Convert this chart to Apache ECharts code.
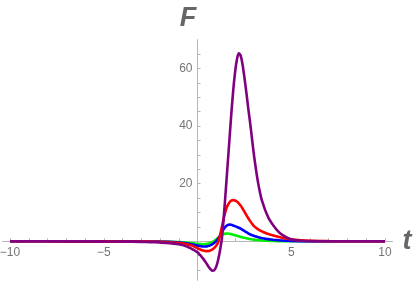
<!DOCTYPE html>
<html><head><meta charset="utf-8">
<script src="https://cdn.jsdelivr.net/npm/echarts@6/dist/echarts.min.js"></script>
<style>html,body{margin:0;padding:0;background:#fff}#c{width:415px;height:285px}</style>
</head><body><div id="c"></div>
<script>
const tVals = [-10,-8,-6,-5,-4,-3,-2.5,-2,-1.5,
  -1.0,-0.9,-0.8,-0.7,-0.6,-0.5,-0.4,-0.3,-0.2,-0.1,
  0,0.1,0.2,0.3,0.4,0.5,0.6,0.7,0.8,0.9,
  1.0,1.1,1.2,1.3,1.4,1.5,1.6,1.7,1.8,1.9,
  2.0,2.1,2.2,2.3,2.4,2.5,2.6,2.7,2.8,2.9,
  3.0,3.1,3.2,3.3,3.4,3.5,3.6,3.7,3.8,3.9,
  4.0,4.25,4.5,5,5.5,6,7,8,10];
const greenVals = [0,0,0,0,-0.01,-0.03,-0.05,-0.08,-0.13,
  -0.25,-0.29,-0.33,-0.38,-0.44,-0.5,-0.57,-0.64,-0.72,-0.8,
  -0.87,-0.93,-0.98,-1.0,-0.97,-0.88,-0.72,-0.5,-0.2,0.2,
  0.7,1.25,1.75,2.2,2.5,2.68,2.72,2.65,2.5,2.32,
  2.12,1.92,1.72,1.54,1.37,1.21,1.06,0.93,0.8,0.69,
  0.59,0.5,0.43,0.37,0.31,0.27,0.23,0.19,0.16,0.14,
  0.12,0.08,0.05,0.02,0.01,0,0,0,0];
const blueVals = [0,0,0,-0.01,-0.02,-0.05,-0.08,-0.12,-0.2,
  -0.4,-0.46,-0.52,-0.6,-0.7,-0.8,-0.93,-1.06,-1.2,-1.35,
  -1.5,-1.63,-1.73,-1.8,-1.82,-1.75,-1.58,-1.3,-0.95,-0.5,
  0.05,0.9,2.0,3.2,4.3,5.1,5.6,5.8,5.72,5.52,
  5.27,5.0,4.7,4.4,4.0,3.6,3.2,2.8,2.45,2.15,
  1.9,1.7,1.5,1.33,1.18,1.05,0.93,0.82,0.72,0.63,
  0.55,0.42,0.3,0.15,0.07,0.03,0.01,0,0];
const redVals = [0,0,-0.01,-0.02,-0.04,-0.08,-0.12,-0.18,-0.3,
  -0.55,-0.63,-0.72,-0.83,-0.95,-1.1,-1.3,-1.5,-1.75,-2.05,
  -2.4,-2.7,-3.0,-3.2,-3.35,-3.4,-3.35,-3.15,-2.8,-2.3,
  -1.5,-0.3,2.0,5.0,8.0,10.6,12.4,13.5,14.1,14.3,
  14.2,13.8,13.2,12.4,11.4,10.3,9.2,8.1,7.1,6.2,
  5.4,4.8,4.3,3.9,3.55,3.25,2.95,2.7,2.5,2.3,
  2.1,1.65,1.25,0.7,0.38,0.2,0.05,0.01,0];
const purpleVals = [0,0,-0.02,-0.04,-0.08,-0.18,-0.28,-0.42,-0.62,
  -1.0,-1.15,-1.3,-1.5,-1.75,-2.0,-2.3,-2.65,-3.0,-3.4,
  -3.8,-4.5,-5.2,-6.0,-6.9,-7.9,-8.9,-9.7,-10.2,-10.0,
  -8.8,-6.5,-3.2,1.0,8.4,17,26,35,44,52,
  58.5,63,65.3,64.5,61.5,57,52,46.5,41.5,36,
  30.5,25.8,21.5,18,15,12.9,11.0,9.4,8.0,6.9,
  5.9,3.8,2.3,0.6,0.2,0.06,0.01,0,0];
const xTickLabels = [-10,-5,5,10];
const yTickLabels = [20,40,60];
const xTicks = [-10,-9,-8,-7,-6,-5,-4,-3,-2,-1,1,2,3,4,5,6,7,8,9,10];
const yTicks = [-10,-5,5,10,15,20,25,30,35,40,45,50,55,60,65];
const xMin = -10.4, xMax = 10.4, yMin = -13.5, yMax = 70;

const axisColor = '#b5b5b5';
const labelColor = '#757575';
const gridLeft = 2.5, gridWidth = 390, gridTop = 39.7, gridHeight = 240.5;
// axis offsets so the axes cross at the origin
const xAxisOffset = -gridHeight * (0 - yMin) / (yMax - yMin);
const yAxisOffset = -gridWidth * (0 - xMin) / (xMax - xMin);
function pairs(vals){ return tVals.map((t,i)=>[t, vals[i]]); }
function mk(name, vals, color){
  return {name:name, type:'line', data:pairs(vals), showSymbol:false, smooth:0.3,
    lineStyle:{color:color, width:2.6}, itemStyle:{color:color}, animation:false};
}
const chart = echarts.init(document.getElementById('c'), null, {renderer:'canvas'});
chart.setOption({
  animation:false,
  grid:{left:gridLeft, width:gridWidth, top:gridTop, height:gridHeight, containLabel:false,
    outerBounds:{left:-60, right:-60, top:-60, bottom:-60}},
  xAxis:{type:'value', min:xMin, max:xMax, position:'bottom', offset:xAxisOffset,
    axisLine:{onZero:false, lineStyle:{color:axisColor, width:1}},
    axisTick:{inside:true, length:3, customValues:xTicks, lineStyle:{color:axisColor}},
    axisLabel:{show:true, customValues:xTickLabels, margin:5, fontSize:12, color:labelColor, fontFamily:'Liberation Sans',
      formatter:v=> (v<0? '\u2212'+Math.abs(v) : String(v))},
    splitLine:{show:false}},
  yAxis:{type:'value', min:yMin, max:yMax, position:'left', offset:yAxisOffset,
    axisLine:{onZero:false, lineStyle:{color:axisColor, width:1}},
    axisTick:{inside:true, length:3, customValues:yTicks, lineStyle:{color:axisColor}},
    axisLabel:{show:true, customValues:yTickLabels, margin:5, fontSize:12, color:labelColor, fontFamily:'Liberation Sans'},
    splitLine:{show:false}},
  series:[
    mk('g', greenVals, '#00ee00'),
    mk('b', blueVals, '#0000ff'),
    mk('r', redVals, '#ff0000'),
    mk('p', purpleVals, '#800080')
  ],
  graphic:[
    {type:'text', x:188, y:19, style:{text:'F', font:'italic bold 27px "Liberation Sans"', fill:'#666', align:'center', verticalAlign:'middle'}},
    {type:'text', x:407, y:242, style:{text:'t', font:'italic bold 27px "Liberation Sans"', fill:'#666', align:'center', verticalAlign:'middle'}}
  ]
});
</script></body></html>
